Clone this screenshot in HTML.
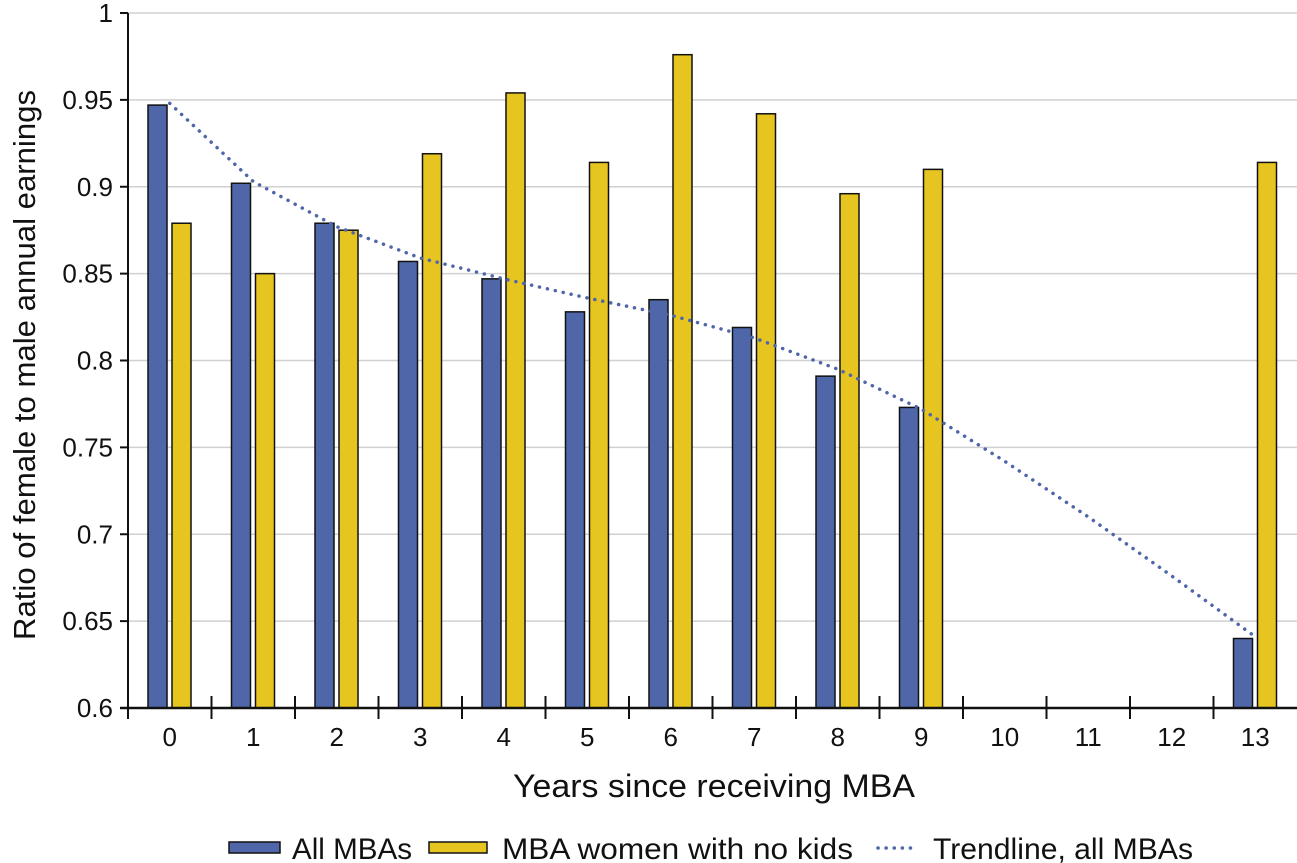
<!DOCTYPE html>
<html><head><meta charset="utf-8"><style>
body{margin:0;background:#fff;}
svg{display:block;font-family:"Liberation Sans",sans-serif;}
</style></head><body>
<svg id="chart" width="1297" height="863" viewBox="0 0 1297 863" xmlns="http://www.w3.org/2000/svg">
<g id="grid"></g>
<g id="bars"></g>
<g id="axes"></g>
<text transform="translate(35,365) rotate(-90)" text-anchor="middle" font-size="31" fill="#111" textLength="550" lengthAdjust="spacingAndGlyphs">Ratio of female to male annual earnings</text>
<text x="714" y="797" text-anchor="middle" font-size="32" fill="#111" textLength="402" lengthAdjust="spacingAndGlyphs">Years since receiving MBA</text>
<g font-size="30" fill="#111">
<rect x="229" y="842" width="51" height="11" fill="#4f67a9" stroke="#111" stroke-width="1.5"/>
<text x="292" y="859" textLength="120" lengthAdjust="spacingAndGlyphs">All MBAs</text>
<rect x="429" y="842" width="58" height="11" fill="#e7c520" stroke="#111" stroke-width="1.5"/>
<text x="502" y="859" textLength="351" lengthAdjust="spacingAndGlyphs">MBA women with no kids</text>
<line x1="878" y1="848" x2="918" y2="848" stroke="#4f67a9" stroke-width="3.5" stroke-dasharray="0.1 8" stroke-linecap="round"/>
<text x="933" y="859" textLength="260" lengthAdjust="spacingAndGlyphs">Trendline, all MBAs</text>
</g>
</svg>
<script>
const categories = ["0","1","2","3","4","5","6","7","8","9","10","11","12","13"];
const allMBAs = [0.947,0.902,0.879,0.857,0.847,0.828,0.835,0.819,0.791,0.773,null,null,null,0.640];
const noKids = [0.879,0.850,0.875,0.919,0.954,0.914,0.976,0.942,0.896,0.910,null,null,null,0.914];
const trend = [0.948,0.903,0.877,0.859,0.847,0.836,0.826,0.813,0.795,0.772,0.742,0.710,0.676,0.641];
const yTicks = [0.6,0.65,0.7,0.75,0.8,0.85,0.9,0.95,1];
const yTickLabels = ["0.6","0.65","0.7","0.75","0.8","0.85","0.9","0.95","1"];

const NS="http://www.w3.org/2000/svg";
const X0=128, X1=1297, Y0=708, Y1=13, YMIN=0.6, YMAX=1;
const bw=(X1-X0)/categories.length;
function y(v){return Y0-(v-YMIN)/(YMAX-YMIN)*(Y0-Y1);}
function xStart(i){return X0+i*bw;}
function xc(i){return X0+(i+0.5)*bw;}
function mk(tag,attrs,parent){const e=document.createElementNS(NS,tag);for(const k in attrs)e.setAttribute(k,attrs[k]);parent.appendChild(e);return e;}
const grid=document.getElementById('grid'),bars=document.getElementById('bars'),axes=document.getElementById('axes');
yTicks.forEach((t,i)=>{
  if(i>0){const g=mk('line',{x1:X0,x2:X1,y1:y(t),y2:y(t),stroke:'#d0d0d0','stroke-width':1.5},grid);
  
  }
  const tk=mk('line',{x1:120,x2:X0,y1:y(t),y2:y(t),stroke:'#111','stroke-width':2},axes);
  
  
  const tx=mk('text',{x:113,y:y(t)+9,'text-anchor':'end','font-size':26,fill:'#111'},axes);
  tx.textContent=yTickLabels[i];
  
  
});
categories.forEach((c,i)=>{
  if(allMBAs[i]!=null){const r=mk('rect',{x:xStart(i)+20,y:y(allMBAs[i]),width:19,height:Y0-y(allMBAs[i]),fill:'#4f67a9',stroke:'#111','stroke-width':1.5},bars);
  
  }
  if(noKids[i]!=null){const r=mk('rect',{x:xStart(i)+44,y:y(noKids[i]),width:19,height:Y0-y(noKids[i]),fill:'#e7c520',stroke:'#111','stroke-width':1.5},bars);
  
  }
  const tk=mk('line',{x1:xStart(i),x2:xStart(i),y1:696,y2:719,stroke:'#111','stroke-width':2},axes);
  
  
  const tx=mk('text',{x:xc(i),y:746,'text-anchor':'middle','font-size':26,fill:'#111'},axes);
  tx.textContent=c;
  
  
});
const pts=trend.map((v,i)=>xc(i)+','+y(v)).join(' ');
const tl=mk('polyline',{points:pts,fill:'none',stroke:'#4f67a9','stroke-width':3.5,'stroke-dasharray':'0.1 8','stroke-linecap':'round'},bars);


const ya=mk('line',{x1:X0,x2:X0,y1:Y1,y2:Y0,stroke:'#111','stroke-width':2},axes);


const xa=mk('line',{x1:X0-8,x2:X1,y1:Y0,y2:Y0,stroke:'#111','stroke-width':2.5},axes);


</script>
</body></html>
